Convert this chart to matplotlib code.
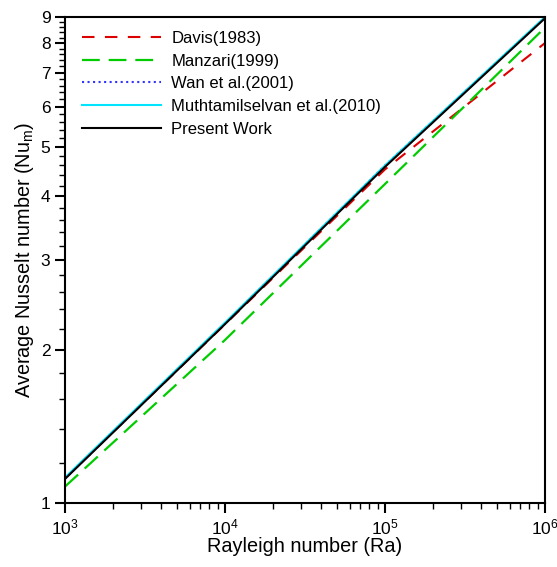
import numpy as np
import matplotlib.pyplot as plt
from matplotlib.ticker import FixedLocator, NullFormatter

ra = [1e3, 1e4, 1e5, 1e6]
davis = [1.118, 2.243, 4.519, 8.00]
manzari = [1.077, 2.09, 4.23, 8.58]
wan = [1.117, 2.254, 4.598, 8.976]
muth = [1.122, 2.26, 4.60, 9.00]
present = [1.115, 2.245, 4.57, 8.95]

plt.rcParams["font.family"] = ["Liberation Sans", "DejaVu Sans"]
plt.rcParams["mathtext.fontset"] = "custom"
plt.rcParams["mathtext.rm"] = "Liberation Sans"
plt.rcParams["mathtext.it"] = "Liberation Sans"


def main():
    fig = plt.figure(figsize=(5.57, 5.67), dpi=100)
    ax = fig.add_axes([65 / 557, 64 / 567, 480 / 557, 486 / 567])

    ax.plot(ra, davis, color="#dd0000", lw=1.5, dashes=(6, 5), label="Davis(1983)")
    ax.plot(ra, manzari, color="#00cc00", lw=1.6, dashes=(8, 4), label="Manzari(1999)")
    ax.plot(ra, wan, color="#3333ff", lw=1.5, ls=":", label="Wan et al.(2001)")
    ax.plot(ra, muth, color="#00e5ff", lw=1.5, label="Muthtamilselvan et al.(2010)")
    ax.plot(ra, present, color="black", lw=1.5, label="Present Work")

    ax.set_xscale("log")
    ax.set_yscale("log")
    ax.set_xlim(1e3, 1e6)
    ax.set_ylim(1, 9)

    ax.yaxis.set_major_locator(FixedLocator(range(1, 10)))
    ax.yaxis.set_major_formatter(plt.FuncFormatter(lambda v, p: f"{v:g}"))
    ax.yaxis.set_minor_locator(FixedLocator(np.arange(1, 9, 0.2)))
    ax.yaxis.set_minor_formatter(NullFormatter())

    for s in ax.spines.values():
        s.set_linewidth(1.5)
    ax.tick_params(which="major", direction="out", length=7, width=1.5,
                   labelsize=12.5, top=False, right=False)
    ax.tick_params(which="minor", direction="out", length=4, width=1,
                   top=False, right=False)

    ax.set_xlabel("Rayleigh number (Ra)", fontsize=14.3, labelpad=0)
    ax.set_ylabel("Average Nusselt number (Nu$_\\mathregular{m}$)", fontsize=14.3, labelpad=3)

    ax.legend(loc="upper left", frameon=False, fontsize=12, handlelength=4.7,
              handletextpad=0.65, labelspacing=0.46, borderaxespad=0,
              bbox_to_anchor=(0.022, 0.985))

    fig.savefig("out.png", dpi=100)


if __name__ == "__main__":
    main()
